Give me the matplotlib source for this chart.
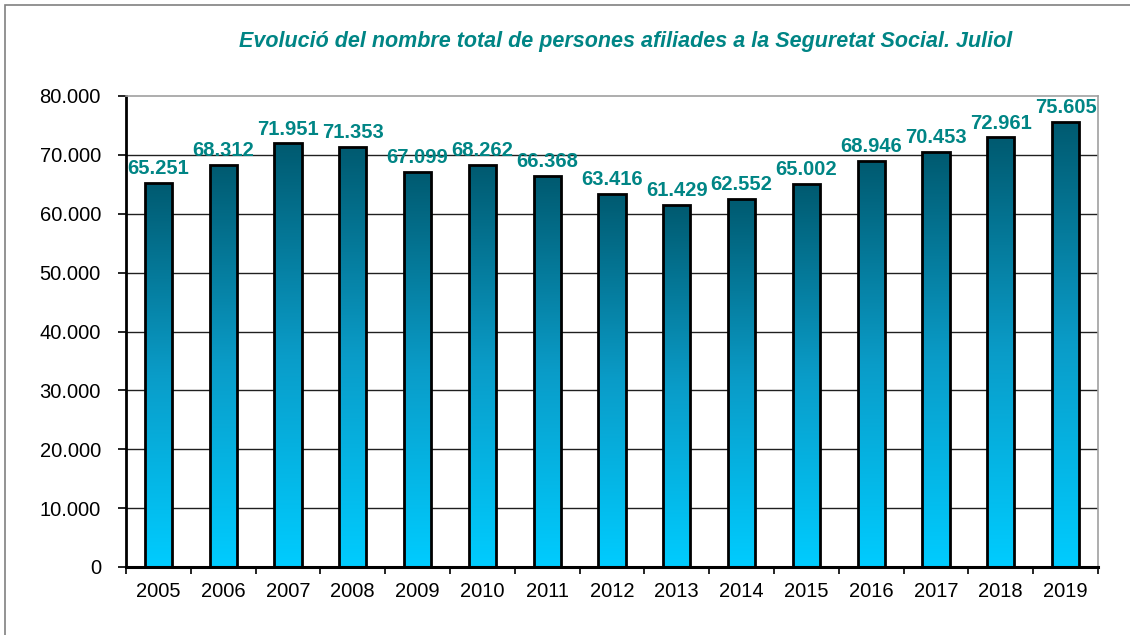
import numpy as np
import matplotlib
matplotlib.use("Agg")
import matplotlib.pyplot as plt
from matplotlib.patches import Rectangle
from matplotlib.colors import LinearSegmentedColormap

plt.rcParams['font.family'] = ['Liberation Sans', 'DejaVu Sans']

years = ['2005', '2006', '2007', '2008', '2009', '2010', '2011', '2012',
         '2013', '2014', '2015', '2016', '2017', '2018', '2019']
values = [65251, 68312, 71951, 71353, 67099, 68262, 66368, 63416,
          61429, 62552, 65002, 68946, 70453, 72961, 75605]
yticks = [0, 10000, 20000, 30000, 40000, 50000, 60000, 70000, 80000]
ytick_labels = ['0', '10.000', '20.000', '30.000', '40.000', '50.000',
                '60.000', '70.000', '80.000']
title = "Evolució del nombre total de persones afiliades a la Seguretat Social. Juliol"

def fmt(v):
    return f"{v:,}".replace(",", ".")

W, H = 1130, 635
fig = plt.figure(figsize=(W / 100, H / 100), dpi=100)
fig.patch.set_facecolor('white')

# outer frame (extends beyond right/bottom edges)
fig.add_artist(Rectangle((5 / W, -0.1), 1.2, 1 - 5 / H + 0.1, transform=fig.transFigure,
                         fill=False, edgecolor='#808080', linewidth=1.2))

ax = fig.add_axes([126 / W, 1 - 567 / H, (1098 - 126) / W, (567 - 96) / H])

cmap = LinearSegmentedColormap.from_list('g', ['#00CCFF', '#0A9CC8', '#005A70'])
grad = np.linspace(0, 1, 256).reshape(-1, 1)

x = np.arange(len(years))
bw = 0.42
for xi, v in zip(x, values):
    rect = Rectangle((xi - bw / 2, 0), bw, v, facecolor='none', edgecolor='black',
                     linewidth=2.0, zorder=4)
    ax.add_patch(rect)
    im = ax.imshow(grad, cmap=cmap, aspect='auto', origin='lower',
                   extent=[xi - bw / 2, xi + bw / 2, 0, v], zorder=3,
                   interpolation='bilinear')
    im.set_clip_path(rect)
    ax.annotate(fmt(v), (xi, v), xytext=(0, 3.5), textcoords='offset points',
                ha='center', va='bottom', fontsize=14.5, fontweight='bold',
                color='#008585', zorder=6)

ax.set_xlim(-0.5, len(years) - 0.5)
ax.set_ylim(0, 80000)
ax.set_yticks(yticks)
ax.set_yticklabels(ytick_labels, fontsize=14.5)
ax.set_xticks(x)
ax.set_xticklabels(years, fontsize=14.5)
ax.set_xticks(np.arange(-0.5, len(years)), minor=True)
ax.tick_params(axis='x', which='major', length=0, pad=11)
ax.tick_params(axis='x', which='minor', length=5, width=1.2, direction='out')
ax.tick_params(axis='y', length=6, width=1.2, direction='out', pad=12)

for yv in yticks[1:-1]:
    ax.axhline(yv, color='#202020', linewidth=1.0, zorder=1)

ax.spines['left'].set_linewidth(2)
ax.spines['bottom'].set_linewidth(2.2)
ax.spines['bottom'].set_zorder(5)
ax.spines['top'].set_color('#a0a0a0')
ax.spines['right'].set_color('#a0a0a0')
ax.spines['top'].set_linewidth(1.2)
ax.spines['right'].set_linewidth(1.2)

fig.text(626 / W, 1 - 42 / H, title, ha='center', va='center', fontsize=15.5,
         fontweight='bold', fontstyle='italic', color='#008585')

fig.savefig('out.png', dpi=100)
